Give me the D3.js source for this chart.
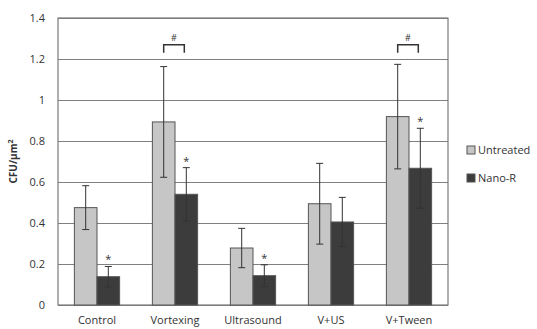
<!DOCTYPE html>
<html lang="en">
<head>
  <meta charset="utf-8">
  <title>CFU per um2</title>
  <script src="https://d3js.org/d3.v7.min.js"></script>
  <style>
    body { margin: 0; background: #fff; overflow: hidden; }
    svg { display: block; }
    svg text { font-family: "Open Sans", sans-serif; fill: #333; }
    .axis text { font-size: 11px; }
    .grid line { stroke: #808080; stroke-width: 1.2; }
    .grid path.domain { display: none; }
  </style>
</head>
<body>
  <script>
    // data
    const categories = ["Control", "Vortexing", "Ultrasound", "V+US", "V+Tween"];
    const seriesNames = ["Untreated", "Nano-R"];
    const untreated = [0.475, 0.893, 0.278, 0.494, 0.919];
    const untreatedErr = [0.107, 0.27, 0.096, 0.197, 0.255];
    const nanoR = [0.138, 0.54, 0.143, 0.405, 0.667];
    const nanoErr = [0.05, 0.13, 0.053, 0.12, 0.195];
    const starred = ["Control", "Vortexing", "Ultrasound", "V+Tween"]; // * on Nano-R
    const hashed = ["Vortexing", "V+Tween"]; // # bracket between the two bars
    const yTicks = [0, 0.2, 0.4, 0.6, 0.8, 1, 1.2, 1.4];

    const colors = { "Untreated": "#c6c6c6", "Nano-R": "#3c3c3c" };

    const width = 537, height = 329;
    const margin = { top: 18, right: 89, bottom: 24, left: 58 };
    const innerWidth = width - margin.left - margin.right;
    const innerHeight = height - margin.top - margin.bottom;

    const svg = d3.select("body").append("svg")
      .attr("width", width).attr("height", height);
    const g = svg.append("g").attr("transform", `translate(${margin.left},${margin.top})`);

    const x0 = d3.scaleBand().domain(categories).range([0, innerWidth])
      .paddingInner(0.42).paddingOuter(0.21);
    const x1 = d3.scaleBand().domain(seriesNames).range([0, x0.bandwidth()]);
    const y = d3.scaleLinear().domain([0, 1.4]).range([innerHeight, 0]);

    // gridlines
    g.append("g").attr("class", "grid")
      .call(d3.axisLeft(y).tickValues(yTicks).tickSize(-innerWidth).tickFormat(""));

    // tick labels
    const yAxis = g.append("g").attr("class", "axis")
      .call(d3.axisLeft(y).tickValues(yTicks).tickSize(0).tickPadding(13).tickFormat(d3.format("")));
    yAxis.select(".domain").remove();

    // plot frame
    g.append("rect").attr("width", innerWidth).attr("height", innerHeight)
      .attr("fill", "none").attr("stroke", "#7a7a7a").attr("stroke-width", 1.2);

    const rows = categories.map((c, i) => ({
      cat: c,
      bars: [
        { s: "Untreated", v: untreated[i], e: untreatedErr[i] },
        { s: "Nano-R", v: nanoR[i], e: nanoErr[i] }
      ]
    }));

    const groups = g.selectAll("g.cat").data(rows).join("g")
      .attr("class", "cat")
      .attr("transform", d => `translate(${x0(d.cat)},0)`);

    groups.selectAll("rect").data(d => d.bars).join("rect")
      .attr("x", d => x1(d.s))
      .attr("y", d => y(d.v))
      .attr("width", x1.bandwidth())
      .attr("height", d => innerHeight - y(d.v))
      .attr("fill", d => colors[d.s])
      .attr("stroke", "#555").attr("stroke-width", 1);

    // error bars
    const eb = groups.selectAll("g.err").data(d => d.bars).join("g").attr("class", "err")
      .attr("transform", d => `translate(${x1(d.s) + x1.bandwidth() / 2},0)`)
      .attr("stroke", "#333").attr("stroke-width", 1);
    eb.append("line").attr("y1", d => y(d.v + d.e)).attr("y2", d => y(d.v - d.e));
    eb.append("line").attr("x1", -3.5).attr("x2", 3.5).attr("y1", d => y(d.v + d.e)).attr("y2", d => y(d.v + d.e));
    eb.append("line").attr("x1", -3.5).attr("x2", 3.5).attr("y1", d => y(d.v - d.e)).attr("y2", d => y(d.v - d.e));

    // asterisks
    groups.filter(d => starred.includes(d.cat)).append("text")
      .attr("x", x1("Nano-R") + x1.bandwidth() / 2)
      .attr("y", d => y(d.bars[1].v + d.bars[1].e) - 3)
      .attr("text-anchor", "middle").attr("font-size", 11)
      .text("*");

    // # brackets
    const bracketLevel = 1.27;
    const hb = groups.filter(d => hashed.includes(d.cat));
    const bx1 = x1("Untreated") + x1.bandwidth() / 2;
    const bx2 = x1("Nano-R") + x1.bandwidth() / 2 - 2;
    hb.append("path")
      .attr("d", `M${bx1},${y(bracketLevel) + 8}V${y(bracketLevel)}H${bx2}V${y(bracketLevel) + 8}`)
      .attr("fill", "none").attr("stroke", "#333").attr("stroke-width", 1.5);
    hb.append("text")
      .attr("x", (bx1 + bx2) / 2).attr("y", y(bracketLevel) - 4)
      .attr("text-anchor", "middle").attr("font-size", 9)
      .text("#");

    // category labels
    g.append("g").selectAll("text").data(categories).join("text")
      .attr("x", d => x0(d) + x0.bandwidth() / 2)
      .attr("y", innerHeight + 19)
      .attr("text-anchor", "middle").attr("font-size", 11)
      .text(d => d);

    // y title
    const yt = svg.append("text")
      .attr("transform", `translate(17,${margin.top + innerHeight / 2}) rotate(-90)`)
      .attr("text-anchor", "middle").attr("font-size", 10).attr("font-weight", "bold");
    yt.append("tspan").text("CFU/µm");
    yt.append("tspan").attr("dy", -4).attr("font-size", 7).text("2");

    // legend
    const legend = svg.append("g").attr("transform", "translate(467,0)");
    const li = legend.selectAll("g").data(seriesNames).join("g")
      .attr("transform", (d, i) => `translate(0,${150 + i * 28})`);
    li.append("rect").attr("x", 0).attr("y", -4).attr("width", 8).attr("height", 8)
      .attr("fill", d => colors[d]).attr("stroke", "#555");
    li.append("text").attr("x", 11).attr("y", 4).attr("font-size", 11).text(d => d);
  </script>
</body>
</html>
